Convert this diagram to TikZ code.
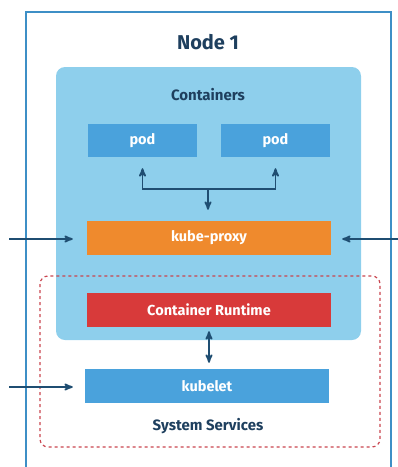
\documentclass[tikz,border=0pt]{standalone}
\usepackage{fontspec}
\setmainfont{Fira Sans}
\usepackage{tikz}
\usetikzlibrary{arrows,positioning}
\definecolor{navy}{HTML}{1E3F5E}
\definecolor{arrowblue}{HTML}{1F4E72}
\definecolor{frameblue}{HTML}{3D8FC6}
\definecolor{contblue}{HTML}{8ECFEC}
\definecolor{podblue}{HTML}{4AA2DC}
\definecolor{proxyorange}{HTML}{EF8A2D}
\definecolor{runred}{HTML}{D83A3A}
\definecolor{dashred}{HTML}{C9454F}

\begin{document}
\begin{tikzpicture}[x=1pt,y=-1pt,>=stealth',
            box/.style={rectangle,minimum width=244pt,minimum height=34pt,inner sep=0pt,
                text=white,font=\bfseries\fontsize{14.5}{17}\selectfont},
            title/.style={text=navy,font=\bfseries\fontsize{15}{18}\selectfont},
            link/.style={->,draw=arrowblue,line width=1.8pt}]
            \useasboundingbox (0,0) rectangle (398,467);

            % Frame of the node and the containers area
            \draw[frameblue,line width=2pt] (26,467) -- (26,12) -- (391,12) -- (391,467);
            \fill[contblue,rounded corners=9pt] (56,67) rectangle (361,340);
            \draw[dashred,line width=1.2pt,dash pattern=on 3pt off 3pt,rounded corners=8pt]
                (40,276) rectangle (380,447);

            % Define the blocks as nodes
            \node[title,font=\bfseries\fontsize{20}{24}\selectfont] (node1) at (208,42) {Node 1};
            \node[title] (cont) at (208,95) {Containers};
            \node[box,fill=podblue,minimum width=109pt,minimum height=33pt] (podl) at (142.5,140.5) {pod};
            \node[box,fill=podblue,minimum width=109pt,minimum height=33pt] (podr) at (275.5,140.5) {pod};
            \node[box,fill=proxyorange] (proxy) at (209,238) {kube-proxy};
            \node[box,fill=runred] (runtime) at (209,310) {Container Runtime};
            \node[box,fill=podblue] (kubelet) at (207,386) {kubelet};
            \node[title] (sys) at (208,426) {System Services};

            \coordinate (split) at (208,189);
            \coordinate (inproxyl) at (9,239);
            \coordinate (inproxyr) at (398,239);
            \coordinate (inkubelet) at (9,387);

            % Connect the blocks with arrows
            \draw[link,shorten >=11pt] (split) -| (podl.south);
            \draw[link,shorten >=11pt] (split) -| (podr.south);
            \draw[link,shorten >=11pt] (split) -- (split |- proxy.north);
            \draw[link,shorten >=14pt] (inproxyl) -- (inproxyl -| proxy.west);
            \draw[link,shorten >=11pt] (inproxyr) -- (inproxyr -| proxy.east);
            \draw[link,<->,shorten <=4pt,shorten >=6pt] (runtime.south) -- (runtime.south |- kubelet.north);
            \draw[link,shorten >=12pt] (inkubelet) -- (inkubelet -| kubelet.west);
        \end{tikzpicture}
\end{document}
